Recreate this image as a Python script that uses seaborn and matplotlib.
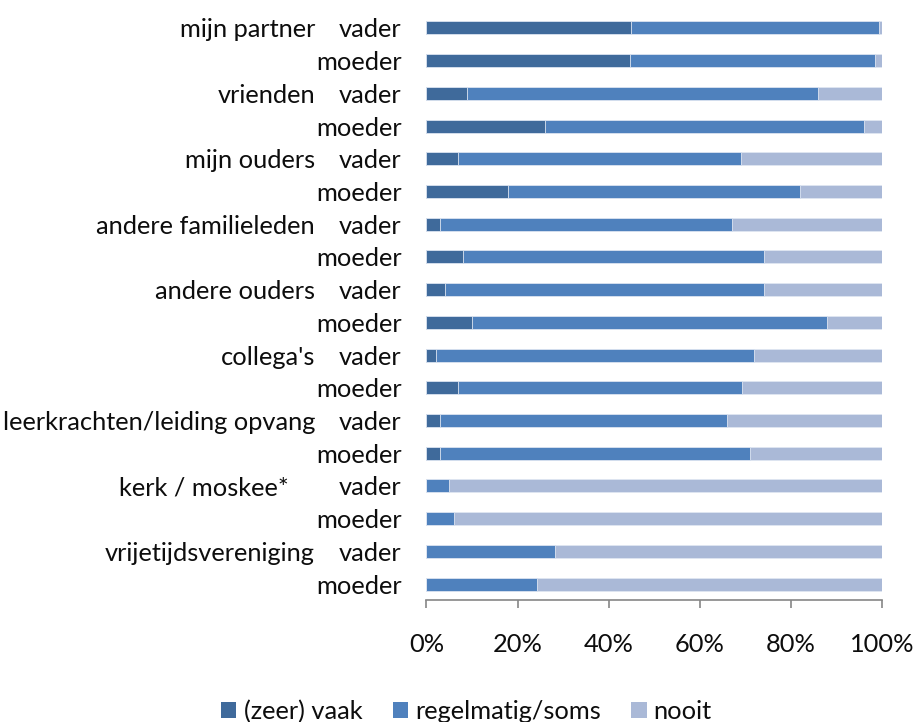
import matplotlib
matplotlib.use("Agg")
import matplotlib.pyplot as plt
import matplotlib.transforms as mtrans
from matplotlib.patches import Patch
import seaborn as sns
import pandas as pd

# ---- data ----
groups = ["mijn partner", "vrienden", "mijn ouders", "andere familieleden",
          "andere ouders", "collega's", "leerkrachten/leiding opvang",
          "kerk / moskee*", "vrijetijdsvereniging"]
persons = ["vader", "moeder"]
vaak = [45, 44.7, 9, 26, 7, 18, 3, 8, 4, 10, 2, 7, 3, 3, 0, 0, 0, 0]
regelmatig = [54.4, 53.8, 77, 70, 62, 64, 64, 66, 70, 78, 70, 62.3, 63, 68, 5, 6, 28.2, 24.3]
nooit = [0.6, 1.5, 14, 4, 31, 18, 33, 26, 26, 12, 28, 30.7, 34, 29, 95, 94, 71.8, 75.7]
series_labels = ["(zeer) vaak", "regelmatig/soms", "nooit"]
x_ticks = [0, 20, 40, 60, 80, 100]
x_tick_labels = ["0%", "20%", "40%", "60%", "80%", "100%"]

colors = ["#3f6a9b", "#4f81bd", "#aab9d7"]

rows = [f"{g}|{p}" for g in groups for p in persons]
row_person = [p for g in groups for p in persons]
df = pd.DataFrame({"row": rows, "vaak": vaak, "regelmatig": regelmatig, "nooit": nooit})
df["c1"] = df["vaak"]
df["c2"] = df["vaak"] + df["regelmatig"]
df["c3"] = df["c2"] + df["nooit"]

sns.set_theme(style="white")
plt.rcParams["font.family"] = ["Lato", "DejaVu Sans"]

FS = 18.3
TXT = "#0d0d0d"

fig = plt.figure(figsize=(9.13, 7.22), dpi=100)
ax = fig.add_axes([0.4671, 0.1684, 0.4989, 0.8156])

for col, c in zip(["c3", "c2", "c1"], colors[::-1]):
    sns.barplot(data=df, y="row", x=col, order=rows, orient="h", color=c,
                width=0.4, saturation=1, ax=ax, edgecolor="#dfe6f2", linewidth=0.6)

ax.set_xlim(0, 100)
ax.set_ylim(len(rows) - 0.5, -0.5)
ax.set_xticks(x_ticks)
ax.set_xticklabels(x_tick_labels)
ax.set_yticks(range(len(rows)))
ax.set_yticklabels(row_person)
ax.set_xlabel("")
ax.set_ylabel("")

for s in ["top", "right", "left"]:
    ax.spines[s].set_visible(False)
ax.spines["bottom"].set_color("#868686")
ax.spines["bottom"].set_linewidth(1.2)
ax.tick_params(axis="x", bottom=True, length=5.5, width=1.2, color="#868686",
               direction="out", pad=18, labelsize=FS, labelcolor=TXT)
ax.tick_params(axis="y", left=False, pad=12, labelsize=FS, labelcolor=TXT)

trans = mtrans.blended_transform_factory(ax.transAxes, ax.transData)
for i, g in enumerate(groups):
    label = g + ("\u00a0" * 4 if g.startswith("kerk") else "")
    ax.text(-0.2448, 2 * i, label, transform=trans, ha="right",
            va="center_baseline", fontsize=FS, color=TXT)

handles = [Patch(facecolor=c, edgecolor="none") for c in colors]
fig.legend(handles, series_labels, loc="center", bbox_to_anchor=(0.511, 0.015),
           ncol=3, frameon=False, fontsize=FS, handlelength=0.6, handleheight=0.6,
           handletextpad=0.28, columnspacing=1.2, labelcolor=TXT)

fig.savefig("out.png", dpi=100)
